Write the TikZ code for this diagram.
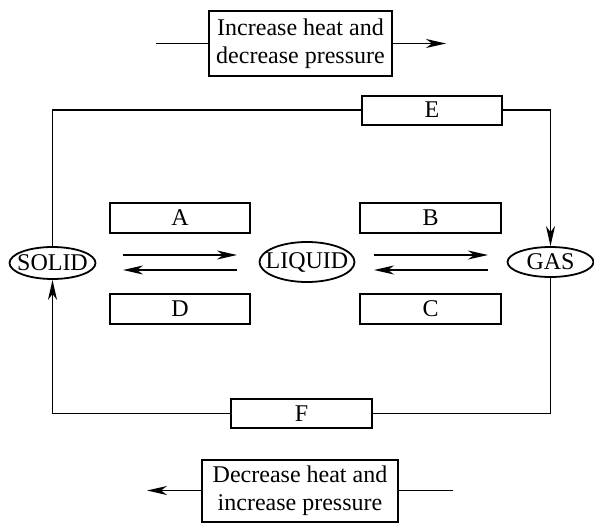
\documentclass[tikz,border=0pt]{standalone}
\usepackage{fontspec}
\setmainfont{Liberation Serif}
\usetikzlibrary{arrows.meta,shapes.geometric}
\begin{document}
\begin{tikzpicture}[x=1pt,y=-1pt,
  every node/.style={font=\fontsize{24}{28}\selectfont},
  line/.style={line width=1.8pt},
  arr/.style={line width=1.8pt,-{Stealth[length=20pt,width=9pt,inset=6pt]}},
  box/.style={draw,line width=2pt,rectangle,inner sep=0pt,align=center},
  oval/.style={draw,line width=1.8pt,ellipse,inner sep=0pt}]
\useasboundingbox (0,0) rectangle (594,522);
% top note
\node[box,minimum width=183,minimum height=65] (top) at (300.5,43.5) {Increase heat and\\decrease pressure};
\coordinate (topL) at (156,43.5);
\coordinate (topR) at (446,43.5);
\draw[line] (topL) -- (top.west);
\draw[arr] (top.east) -- (topR);
% bottom note
\node[box,minimum width=196,minimum height=62] (bot) at (300,490.5) {Decrease heat and\\increase pressure};
\coordinate (botR) at (453,490.5);
\coordinate (botL) at (147,490.5);
\draw[line] (botR) -- (bot.east);
\draw[arr] (bot.west) -- (botL);
% states
\node[oval,minimum width=86,minimum height=32,label={center:SOLID}] (solid) at (52.5,263) {};
\node[oval,minimum width=95,minimum height=40,label={center:LIQUID}] (liquid) at (307,262) {};
\node[oval,minimum width=86,minimum height=30,label={center:GAS}] (gas) at (550.5,262) {};
% process boxes
\node[box,minimum width=140,minimum height=29] (E) at (432,110) {E};
\node[box,minimum width=141,minimum height=29] (F) at (301.5,413.5) {F};
\node[box,minimum width=140,minimum height=30] (A) at (180,218) {A};
\node[box,minimum width=140,minimum height=30] (D) at (180,309) {D};
\node[box,minimum width=141,minimum height=30] (B) at (430.5,218) {B};
\node[box,minimum width=141,minimum height=30] (C) at (430.5,309) {C};
% outer loop
\draw[line] (E.west) -| (solid.north);
\draw[arr] (E.east) -| (gas.north);
\draw[line] (gas.south) |- (F.east);
\draw[arr] (F.west) -| (solid.south);
% equilibrium arrows
\coordinate (a1) at (123,255); \coordinate (a2) at (237,255);
\coordinate (a3) at (237,270); \coordinate (a4) at (123,270);
\coordinate (b1) at (374,255); \coordinate (b2) at (488,255);
\coordinate (b3) at (488,270); \coordinate (b4) at (374,270);
\draw[arr] (a1) -- (a2);
\draw[arr] (a3) -- (a4);
\draw[arr] (b1) -- (b2);
\draw[arr] (b3) -- (b4);
\end{tikzpicture}
\end{document}
